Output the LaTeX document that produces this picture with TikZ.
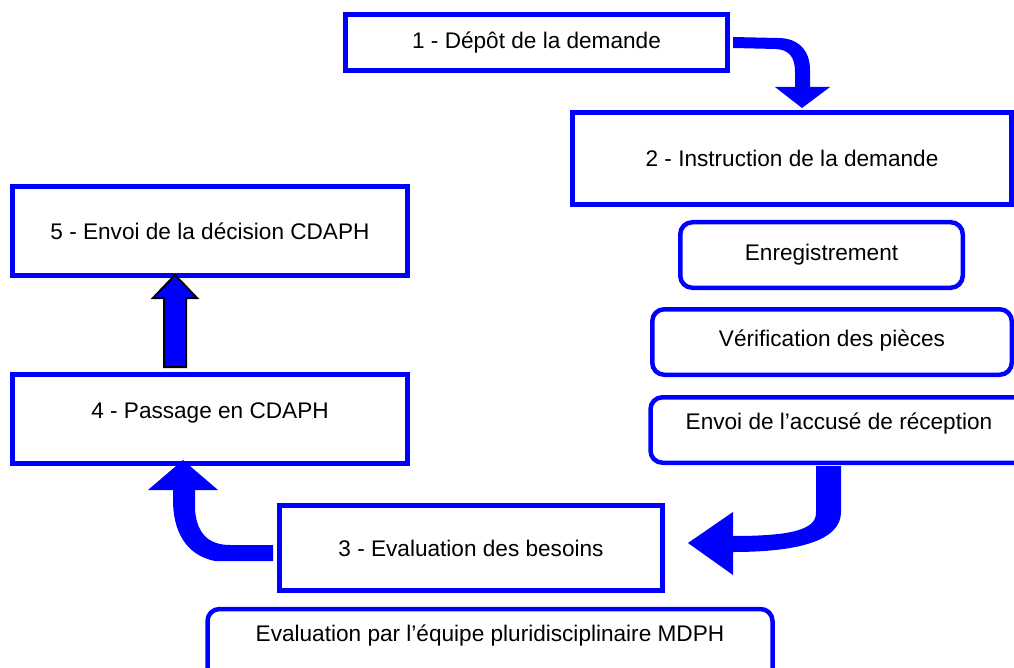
\documentclass[tikz,border=0pt]{standalone}
\usepackage{fontspec}
\setmainfont{Liberation Sans}
\begin{document}
\begin{tikzpicture}[x=1pt,y=-1pt,
  every node/.style={font=\fontsize{22.6}{27}\selectfont, inner sep=0pt},
  sqbox/.style={draw=blue, line width=5pt, fill=white, rectangle},
  rdbox/.style={draw=blue, line width=4.5pt, fill=white, rectangle, rounded corners=12pt},
  bandarrow/.style={fill=blue, draw=none},
  blockarrow/.style={fill=blue, draw=black, line width=2pt, line join=miter}]
\useasboundingbox (0,0) rectangle (1014,668);
\begin{scope}
\clip (0,0) rectangle (1014,668);
\node[sqbox, minimum width=382pt, minimum height=56pt] (b1) at (536.5,42.5) {1 - Dépôt de la demande};
\node[sqbox, minimum width=439pt, minimum height=92pt] (b2) at (792,158.5) {2 - Instruction de la demande};
\node[rdbox, minimum width=282.5pt, minimum height=65.5pt] (e1) at (821.5,255) {Enregistrement};
\node[rdbox, minimum width=359.5pt, minimum height=65.5pt, text depth=8pt] (e2) at (832,342) {Vérification des pièces};
\node[rdbox, minimum width=377pt, minimum height=65.5pt, text depth=18pt] (e3) at (839,430) {Envoi de l’accusé de réception};
\node[sqbox, minimum width=383pt, minimum height=85pt] (b3) at (471,548) {3 - Evaluation des besoins};
\node[rdbox, minimum width=565pt, minimum height=78pt, text depth=30pt] (e4) at (490,648) {Evaluation par l’équipe pluridisciplinaire MDPH};
\node[sqbox, minimum width=395pt, minimum height=89pt, text depth=16pt] (b4) at (210,419) {4 - Passage en CDAPH};
\node[sqbox, minimum width=395pt, minimum height=89pt] (b5) at (210,231) {5 - Envoi de la décision CDAPH};
\end{scope}
% 1 -> 2
\fill[bandarrow] (733,37) -- (778,38) .. controls (798,38) and (810,50) .. (810,70) -- (810,87) -- (830,87) -- (802,108) -- (775,87) -- (795,87) -- (795,72) .. controls (795,58) and (790,50) .. (776,49) -- (733,48) -- cycle;
% Envoi -> 3
\fill[bandarrow] (816,466) -- (816,513) .. controls (816,530) and (790,536) .. (733,536) -- (733,512) -- (688,543) -- (733,575) -- (733,552) .. controls (800,552) and (841,540) .. (841,512) -- (841,466) -- cycle;
% 3 -> 4
\fill[bandarrow] (273,561) -- (215,561) .. controls (185,555) and (173,530) .. (173,500) -- (173,490) -- (148,490) -- (183,460) -- (218,490) -- (195,490) -- (195,510) .. controls (197,535) and (210,545) .. (230,545) -- (273,545) -- cycle;
% 4 -> 5
\filldraw[blockarrow] (164,367) -- (164,298) -- (153,298) -- (175,275) -- (197,298) -- (186,298) -- (186,367) -- cycle;
\end{tikzpicture}
\end{document}
